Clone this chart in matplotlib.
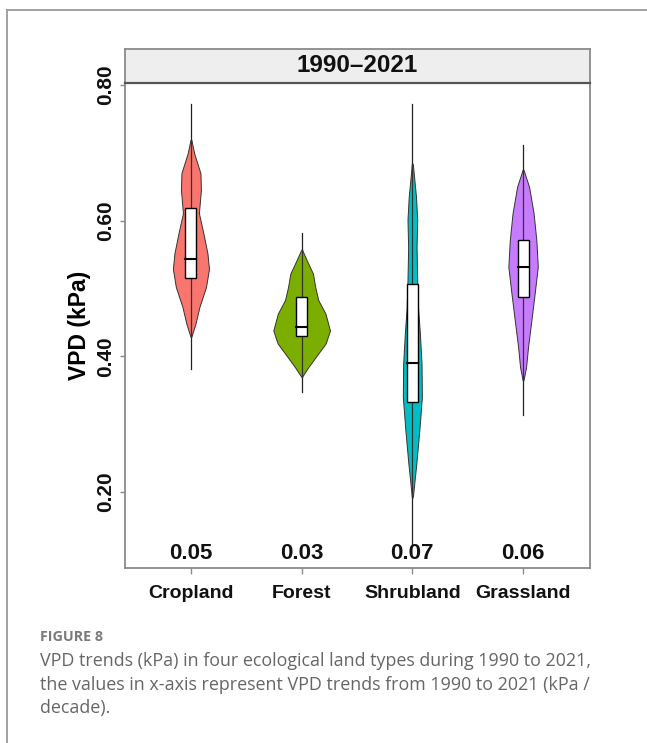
import matplotlib
matplotlib.use("Agg")
import matplotlib.pyplot as plt
from matplotlib.lines import Line2D
from matplotlib.patches import Rectangle
import numpy as np

# ---------------- data ----------------
categories = ["Cropland", "Forest", "Shrubland", "Grassland"]
trend_labels = ["0.05", "0.03", "0.07", "0.06"]
colors = ["#F8766D", "#7CAE00", "#00BFC4", "#C77CFF"]
panel_title = "1990\u20132021"
y_label = "VPD (kPa)"
y_ticks = [0.20, 0.40, 0.60, 0.80]

# box statistics: whisker low, q1, median, q3, whisker high
whisker_low = [0.382, 0.347, 0.124, 0.313]
q1 = [0.515, 0.430, 0.333, 0.488]
median = [0.543, 0.443, 0.390, 0.531]
q3 = [0.618, 0.488, 0.506, 0.572]
whisker_high = [0.772, 0.582, 0.772, 0.711]

# violin outlines: VPD value and half width (category units)
crop_y = [0.719, 0.699, 0.670, 0.645, 0.611, 0.581, 0.552, 0.529, 0.502, 0.473, 0.448, 0.429]
crop_w = [0.004, 0.030, 0.086, 0.090, 0.072, 0.113, 0.149, 0.163, 0.136, 0.077, 0.041, 0.004]
forest_y = [0.557, 0.542, 0.522, 0.502, 0.483, 0.463, 0.438, 0.419, 0.399, 0.384, 0.370]
forest_w = [0.004, 0.045, 0.102, 0.123, 0.150, 0.215, 0.256, 0.217, 0.127, 0.060, 0.004]
shrub_y = [0.684, 0.635, 0.601, 0.561, 0.512, 0.470, 0.434, 0.389, 0.340, 0.291, 0.242, 0.192]
shrub_w = [0.004, 0.033, 0.044, 0.038, 0.044, 0.052, 0.068, 0.083, 0.086, 0.063, 0.036, 0.004]
grass_y = [0.675, 0.650, 0.611, 0.571, 0.532, 0.493, 0.453, 0.414, 0.384, 0.365]
grass_w = [0.004, 0.054, 0.095, 0.120, 0.133, 0.105, 0.075, 0.045, 0.027, 0.004]

caption_head = "FIGURE 8"
caption_lines = [
    "VPD trends (kPa) in four ecological land types during 1990 to 2021,",
    "the values in x-axis represent VPD trends from 1990 to 2021 (kPa /",
    "decade).",
]

violin_y = [crop_y, forest_y, shrub_y, grass_y]
violin_w = [crop_w, forest_w, shrub_w, grass_w]

# ---------------- figure ----------------
W, H = 647, 743
fig = plt.figure(figsize=(W / 100, H / 100), dpi=100)
fig.patch.set_facecolor("white")

def fx(px):
    return px / W

def fy(py):
    return 1 - py / H

font = "Liberation Sans"
frame_col = "#8a8a8a"

# card frame lines (top and left)
fig.add_artist(Line2D([fx(7), 1.0], [fy(9.5), fy(9.5)], color="#9a9a9a", lw=1.3))
fig.add_artist(Line2D([fx(7), fx(7)], [fy(9.5), 0.0], color="#9a9a9a", lw=1.3))

# main panel
left, right, top, bottom = 124.5, 589.5, 82.5, 568.3
ax = fig.add_axes([fx(left), fy(bottom), fx(right) - fx(left), fy(top) - fy(bottom)])
ax.set_xlim(0.4, 4.6)
ax.set_ylim(0.0875, 0.8037)
ax.set_facecolor("white")
for s in ax.spines.values():
    s.set_color(frame_col)
    s.set_linewidth(1.3)

xpos = np.arange(1, len(categories) + 1)
box_w = 0.1
for i, x in enumerate(xpos):
    vy = np.array(violin_y[i])
    vw = np.array(violin_w[i])
    # whisker line
    ax.plot([x, x], [whisker_low[i], whisker_high[i]], color="#222222", lw=0.9, zorder=2)
    ax.fill_betweenx(vy, x - vw, x + vw, facecolor=colors[i], edgecolor="#333333",
                     lw=0.7, zorder=3)
    ax.plot([x, x], [vy.min(), vy.max()], color="#333333", lw=0.9, zorder=4)
    ax.add_patch(Rectangle((x - box_w / 2, q1[i]), box_w, q3[i] - q1[i],
                           facecolor="white", edgecolor="black", lw=1.0, zorder=5))
    ax.plot([x - box_w / 2, x + box_w / 2], [median[i], median[i]], color="black",
            lw=1.5, zorder=6)
    ax.text(x, 0.109, trend_labels[i], ha="center", va="center", fontsize=16,
            fontweight="bold", family=font, color="#111111", zorder=7)

ax.set_xticks(xpos)
ax.set_xticklabels(categories, fontsize=14, fontweight="bold", family=font, color="#111111")
ax.set_yticks(y_ticks)
ax.set_yticklabels([f"{v:.2f}" for v in y_ticks], fontsize=15, fontweight="bold",
                   family=font, rotation=90, va="center", color="#111111")
ax.tick_params(axis="x", length=4, width=1.0, color=frame_col, pad=8)
ax.tick_params(axis="y", length=3.5, width=1.0, color=frame_col, pad=3)
ax.set_ylabel(y_label, fontsize=16.5, fontweight="bold", family=font, labelpad=4)

# strip
sax = fig.add_axes([fx(left), fy(top), fx(right) - fx(left), fy(49) - fy(top)])
sax.set_facecolor("#EEEEEE")
sax.set_xticks([])
sax.set_yticks([])
for s in sax.spines.values():
    s.set_color(frame_col)
    s.set_linewidth(1.3)
sax.spines["bottom"].set_color("#555555")
sax.spines["bottom"].set_linewidth(1.6)
sax.text(0.5, 0.5, panel_title, ha="center", va="center", fontsize=17.5,
         fontweight="bold", family=font, color="#111111", transform=sax.transAxes)

# caption
fig.text(fx(40), fy(637), caption_head, fontsize=10.3, family="Open Sans",
         fontweight="bold", color="#7a7a7a", ha="left", va="center")
for k, line in enumerate(caption_lines):
    fig.text(fx(40), fy(661 + 23.5 * k), line, fontsize=12.9, family="Open Sans",
             color="#666666", ha="left", va="center")

fig.savefig("out.png", dpi=100, facecolor="white")
